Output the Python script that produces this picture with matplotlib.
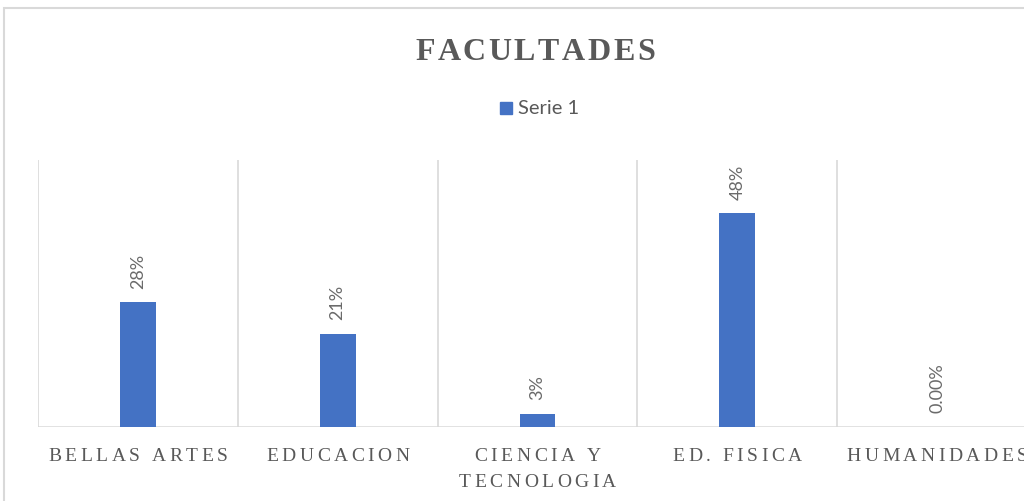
import numpy as np
import matplotlib.pyplot as plt
from matplotlib.patches import Rectangle

categorias = ["BELLAS ARTES", "EDUCACION", "CIENCIA Y\nTECNOLOGIA", "ED. FISICA", "HUMANIDADES"]
valores = [0.28, 0.21, 0.03, 0.48, 0.0]
etiquetas = ["28%", "21%", "3%", "48%", "0.00%"]

azul = "#4472C4"
gris = "#595959"
gris_claro = "#D9D9D9"

W, H = 1024, 501
fig = plt.figure(figsize=(W / 100, H / 100), dpi=100)
renderer = fig.canvas.get_renderer()


def texto_espaciado(s, xc, y_base, extra, **kw):
    # dibuja un texto letra por letra con espaciado extra (px), centrado en xc
    anchos = []
    for ch in s:
        if ch == " ":
            anchos.append(0.25 * kw["fontsize"] * 100 / 72)
            continue
        t = fig.text(0, 0, ch, **kw)
        anchos.append(t.get_window_extent(renderer).width)
        t.remove()
    total = sum(anchos) + extra * (len(s) - 1)
    xx = xc - total / 2
    for ch, w in zip(s, anchos):
        if ch != " ":
            fig.text(xx / W, 1 - y_base / H, ch, ha="left", va="baseline", **kw)
        xx += w + extra


# marco del grafico
fig.patches.append(Rectangle((4 / W, -0.1), 1.2, 1.1 - 8 / H,
                             transform=fig.transFigure, fill=False,
                             edgecolor=gris_claro, linewidth=1.5))

ax = fig.add_axes([38 / W, 74 / H, 999 / W, 267 / H])
x = np.arange(len(categorias))
ax.bar(x, valores, width=0.18, color=azul, zorder=3)

ax.set_xlim(-0.5, len(categorias) - 0.5)
ax.set_ylim(0, 0.6)

for b in np.arange(-0.5, len(categorias), 1.0):
    ax.axvline(b, color=gris_claro, linewidth=1.2, zorder=1)
ax.axhline(0, color=gris_claro, linewidth=1.8, zorder=2)

for xi, v, t in zip(x, valores, etiquetas):
    ax.annotate(t, (xi, v), xytext=(0, 10), textcoords="offset points",
                rotation=90, ha="center", va="bottom", fontsize=13,
                color="#6a6a6a", family="Lato")

for s in ax.spines.values():
    s.set_visible(False)
ax.set_yticks([])
ax.set_xticks([])

# etiquetas de categoria con espaciado entre letras
fila_y = [461, 487]
for xi, cat in zip(x, categorias):
    xc = ax.transData.transform((xi, 0))[0]
    for j, linea in enumerate(cat.split("\n")):
        texto_espaciado(linea, xc, fila_y[j], 3.5, family="Liberation Serif",
                        fontsize=14, color=gris)

texto_espaciado("FACULTADES", 535, 59.5, 2.5, family="Liberation Serif",
                fontweight="bold", fontsize=23, color=gris)

# leyenda
fig.patches.append(Rectangle((500 / W, 1 - 114 / H), 12 / W, 12 / H,
                             transform=fig.transFigure, color=azul))
fig.text(518 / W, 1 - 108 / H, "Serie 1", ha="left", va="center",
         family="Lato", fontsize=14.5, color=gris)

fig.savefig("out.png", dpi=100)
